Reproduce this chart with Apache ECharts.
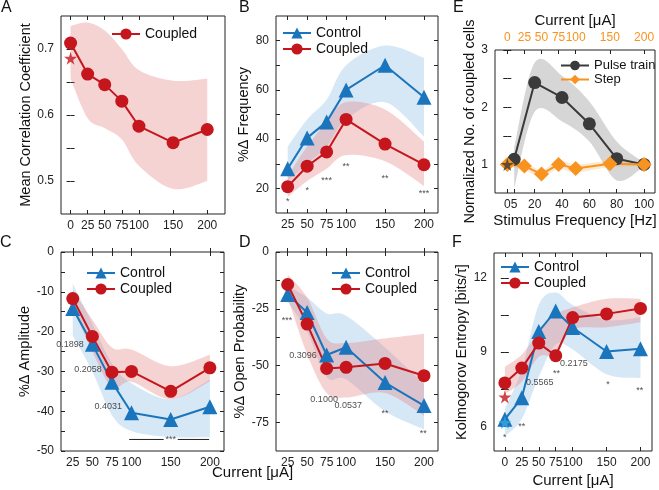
<!DOCTYPE html>
<html>
<head>
<meta charset="utf-8">
<script src="https://cdn.jsdelivr.net/npm/echarts@6/dist/echarts.min.js"></script>
<style>
html, body { margin: 0; padding: 0; background: #fff; }
#chart { width: 659px; height: 490px; }
</style>
</head>
<body>
<div id="chart"></div>
<script>
// ---- data ----
// A: mean correlation coefficient
var aCurrent = [0, 25, 50, 75, 100, 150, 200];
var aCoupled = [0.709, 0.662, 0.646, 0.621, 0.583, 0.558, 0.578];
var aCoupledHi = [0.735, 0.740, 0.728, 0.700, 0.668, 0.652, 0.655];
var aCoupledLo = [0.655, 0.595, 0.580, 0.563, 0.523, 0.488, 0.500];
var aStar = [0, 0.686];

// B: %Δ frequency
var current = [25, 50, 75, 100, 150, 200];
var bControl = [28, 40.5, 47, 60, 70, 57];
var bControlHi = [37, 48, 56, 70, 78, 73];
var bControlLo = [23, 30, 37, 48, 55, 41];
var bCoupled = [20.7, 29, 34.8, 48, 38, 29.6];
var bCoupledHi = [25, 37, 47, 55, 52, 39];
var bCoupledLo = [16.5, 23, 28, 33.5, 31, 21];
var bMarks = [[25, 14.7, '*'], [50, 19, '*'], [75, 23, '***'], [100, 29, '**'], [150, 24, '**'], [200, 18, '***']];

// C: %Δ amplitude
var cControl = [-14.2, -23.2, -32.7, -40.4, -42.1, -38.9];
var cControlHi = [-8, -18, -28, -33, -37, -32];
var cControlLo = [-21, -30, -41, -45, -46.5, -46.5];
var cCoupled = [-11.7, -21.2, -30.2, -30, -35, -29.1];
var cCoupledHi = [-9.6, -17, -24, -24.5, -28.7, -25.8];
var cCoupledLo = [-14, -25, -34, -32.6, -37, -32.5];
var cMarks = [[21.5, -23.2, '0.1898'], [44.4, -29.5, '0.2058'], [70.2, -38.9, '0.4031'], [150, -47.1, '***']];
var cBracket = [[97, -47.1], [141, -47.1], '-', [159, -47.1], [199, -47.1]];

// D: %Δ open probability
var dControl = [-18.7, -26.6, -45.3, -41.9, -57.4, -67.5];
var dControlHi = [-15, -20, -27, -28, -42, -58];
var dControlLo = [-22, -35, -55, -56, -70, -78];
var dCoupled = [-14.3, -31.7, -51.2, -50.7, -49, -54.4];
var dCoupledHi = [-10, -20, -38, -40, -38, -36];
var dCoupledLo = [-20, -45, -62, -64, -62, -72];
var dMarks = [[24, -30.3, '***'], [44.7, -45.5, '0.3096'], [71.8, -64.7, '0.1000'], [102.8, -67.7, '0.0537'], [150, -71.2, '**'], [199, -80, '**']];

// E: normalized no. of coupled cells
var eFreq = [5, 20, 40, 60, 80, 100];
var ePulse = [1.09, 2.43, 2.17, 1.71, 1.10, 1.00];
var ePulseHi = [1.30, 2.78, 2.55, 2.10, 1.40, 1.03];
var ePulseLo = [0.58, 1.92, 1.75, 1.40, 0.72, 0.97];
var eStepCurrent = [0, 25, 50, 75, 100, 150, 200];
var eStep = [1.00, 0.97, 0.83, 1.00, 0.93, 1.01, 1.00];
var eStepHi = [1.03, 1.04, 0.90, 1.07, 1.00, 1.06, 1.03];
var eStepLo = [0.97, 0.90, 0.78, 0.92, 0.86, 0.95, 0.97];
var eStar = [0, 1.0];

// F: Kolmogorov entropy
var fCurrent = [0, 25, 50, 75, 100, 150, 200];
var fControl = [6.28, 7.15, 9.83, 10.66, 9.99, 9.02, 9.13];
var fControlHi = [6.7, 8.3, 10.9, 11.4, 10.9, 10.3, 10.4];
var fControlLo = [5.6, 6.3, 8.0, 9.3, 9.1, 8.1, 7.95];
var fCoupled = [7.75, 8.35, 9.36, 8.85, 10.39, 10.54, 10.76];
var fCoupledHi = [8.4, 8.9, 9.8, 10.5, 10.8, 11.15, 11.15];
var fCoupledLo = [7.3, 7.8, 8.8, 8.9, 9.9, 10.0, 10.2];
var fControlStar = [0, 6.15];
var fCoupledStar = [0, 7.18];
var fMarks = [[0, 5.54, '*'], [25, 5.97, '**'], [51.6, 7.78, '0.5565'], [76, 8.15, '**'], [101.8, 8.53, '0.2175'], [152, 7.69, '*'], [199, 7.45, '**']];

// ---- styles ----
var FONT = '"Liberation Sans", Arial, Helvetica, sans-serif';
var RED = '#c4161c', BLUE = '#1b75bc', ORANGE = '#f7931e', DARK = '#3a3a3a', LIGHTBLUE = '#35a8e0';
var RED_BAND = 'rgba(226,110,110,0.30)';
var BLUE_BAND = 'rgba(120,175,225,0.30)';
var GRAY_BAND = 'rgba(0,0,0,0.16)';
var ORANGE_BAND = 'rgba(247,147,30,0.20)';
var STAR = 'path://M50,0 L61,35 L98,35 L68,57 L79,91 L50,70 L21,91 L32,57 L2,35 L39,35 Z';

var chart = echarts.init(document.getElementById('chart'));

var grids = [
    {left: 61, top: 16, width: 164, height: 198},   // A
    {left: 276, top: 16, width: 162, height: 197},  // B
    {left: 495, top: 50, width: 160, height: 143},  // E
    {left: 61, top: 252, width: 163, height: 199},  // C
    {left: 276, top: 252, width: 162, height: 199}, // D
    {left: 494, top: 253, width: 158, height: 198}  // F
];
grids.forEach(function (g) {
    g.show = true;
    g.borderColor = '#222';
    g.borderWidth = 1;
    g.backgroundColor = 'transparent';
});

var xAxes = [], yAxes = [], series = [];
var tick = {inside: true, length: 4, lineStyle: {color: '#222'}};

function panel(g, o) {
    var xi = xAxes.length, yi = yAxes.length;
    xAxes.push({
        gridIndex: g, type: 'value', min: o.xMin, max: o.xMax, position: 'bottom',
        axisLine: {show: false}, splitLine: {show: false},
        axisTick: Object.assign({customValues: o.xTicks}, tick),
        axisLabel: {customValues: o.xLabels || o.xTicks, fontSize: 12, color: '#222', margin: 6, fontFamily: FONT, hideOverlap: false},
        name: o.xName || '', nameLocation: 'middle', nameGap: o.xGap || 20,
        nameTextStyle: {fontSize: 15, color: '#111', fontFamily: FONT}
    });
    var top = o.top || {};
    xAxes.push({
        gridIndex: g, type: 'value', position: 'top',
        min: top.min != null ? top.min : o.xMin, max: top.max != null ? top.max : o.xMax,
        axisLine: {show: false}, splitLine: {show: false},
        axisTick: Object.assign({customValues: top.ticks || o.xTicks}, tick),
        axisLabel: top.ticks ? {customValues: top.ticks, fontSize: 12, color: ORANGE, margin: 6, fontFamily: FONT, hideOverlap: false} : {show: false},
        name: top.name || '', nameLocation: 'middle', nameGap: top.gap || 20,
        nameTextStyle: {fontSize: 15, color: '#111', fontFamily: FONT}
    });
    yAxes.push({
        gridIndex: g, type: 'value', min: o.yMin, max: o.yMax, position: 'left',
        axisLine: {show: false}, splitLine: {show: false},
        axisTick: Object.assign({customValues: o.yTicks}, tick),
        axisLabel: {customValues: o.yLabels, fontSize: 12, color: '#222', margin: 7, fontFamily: FONT},
        name: o.yName, nameLocation: 'middle', nameGap: o.yGap,
        nameTextStyle: {fontSize: 14.5, color: '#111', fontFamily: FONT}
    });
    yAxes.push({
        gridIndex: g, type: 'value', min: o.yMin, max: o.yMax, position: 'right',
        axisLine: {show: false}, splitLine: {show: false},
        axisTick: Object.assign({customValues: o.yTicks}, tick),
        axisLabel: {show: false}
    });
    return {x: xi, y: yi};
}

// catmull-rom through pixel points, sampled into a dense polyline
function spline(pts) {
    var out = [];
    for (var i = 0; i < pts.length - 1; i++) {
        var p0 = pts[i - 1] || pts[i], p1 = pts[i], p2 = pts[i + 1], p3 = pts[i + 2] || pts[i + 1];
        for (var s = 0; s < 12; s++) {
            var t = s / 12, t2 = t * t, t3 = t2 * t;
            out.push([0, 1].map(function (k) {
                return 0.5 * ((2 * p1[k]) + (-p0[k] + p2[k]) * t +
                    (2 * p0[k] - 5 * p1[k] + 4 * p2[k] - p3[k]) * t2 +
                    (-p0[k] + 3 * p1[k] - 3 * p2[k] + p3[k]) * t3);
            }));
        }
    }
    out.push(pts[pts.length - 1]);
    return out;
}

function band(ax, xs, lo, hi, color, topAxis) {
    series.push({
        type: 'custom', xAxisIndex: ax.x + (topAxis ? 1 : 0), yAxisIndex: ax.y,
        silent: true, z: 1,
        data: xs.map(function (x, i) { return [x, lo[i], hi[i]]; }),
        encode: {x: 0, y: [1, 2]},
        renderItem: function (params, api) {
            if (params.dataIndex !== 0) return null;
            var up = [], dn = [];
            for (var i = 0; i < xs.length; i++) {
                up.push(api.coord([xs[i], hi[i]]));
                dn.push(api.coord([xs[i], lo[i]]));
            }
            var pts = spline(up).concat(spline(dn).reverse());
            return {type: 'polygon', shape: {points: pts}, style: {fill: color}, silent: true};
        }
    });
}

function curve(ax, name, xs, ys, color, symbol, size, topAxis) {
    series.push({
        name: name, type: 'line', xAxisIndex: ax.x + (topAxis ? 1 : 0), yAxisIndex: ax.y,
        data: xs.map(function (x, i) { return [x, ys[i]]; }),
        symbol: symbol, symbolSize: size, showSymbol: true, z: 3,
        lineStyle: {color: color, width: 2},
        itemStyle: {color: color, opacity: 1}
    });
}

function star(ax, pt, color) {
    series.push({
        type: 'scatter', xAxisIndex: ax.x, yAxisIndex: ax.y, data: [pt],
        symbol: STAR, symbolSize: 13, itemStyle: {color: color}, z: 4, silent: true
    });
}

function marks(ax, items) {
    series.push({
        type: 'scatter', xAxisIndex: ax.x, yAxisIndex: ax.y, data: items,
        symbolSize: 0.1, itemStyle: {color: 'transparent'}, silent: true, z: 5,
        label: {
            show: true, position: 'inside', fontSize: 9, color: '#222', fontFamily: FONT,
            formatter: function (p) { return p.data[2]; }
        }
    });
}

// ---- panels ----
var curTicks = [25, 50, 75, 100, 150, 200];
var curTicks0 = [0, 25, 50, 75, 100, 150, 200];

var pA = panel(0, {
    xMin: -14, xMax: 226, xTicks: curTicks0,
    yMin: 0.45, yMax: 0.75, yTicks: [0.5, 0.55, 0.6, 0.65, 0.7], yLabels: [0.5, 0.6, 0.7],
    yName: 'Mean Correlation Coefficient', yGap: 26
});
band(pA, aCurrent, aCoupledLo, aCoupledHi, RED_BAND);
curve(pA, 'Coupled', aCurrent, aCoupled, RED, 'circle', 13);
star(pA, aStar, RED);

var pB = panel(1, {
    xMin: 10, xMax: 218, xTicks: curTicks,
    yMin: 10, yMax: 90, yTicks: [20, 30, 40, 50, 60, 70, 80], yLabels: [20, 40, 60, 80],
    yName: '%Δ Frequency', yGap: 21
});
band(pB, current, bControlLo, bControlHi, BLUE_BAND);
band(pB, current, bCoupledLo, bCoupledHi, RED_BAND);
curve(pB, 'Control', current, bControl, BLUE, 'triangle', 15);
curve(pB, 'Coupled', current, bCoupled, RED, 'circle', 13);
marks(pB, bMarks);

var pE = panel(2, {
    xMin: -9, xMax: 108, xTicks: [0, 5, 20, 40, 60, 80, 100],
    yMin: 0.5, yMax: 3, yTicks: [1, 1.5, 2, 2.5, 3], yLabels: [1, 2, 3],
    yName: 'Normalized No. of coupled cells', yGap: 12,
    xName: 'Stimulus Frequency [Hz]', xGap: 20,
    top: {min: -18, max: 216, ticks: [0, 25, 50, 75, 100, 150, 200], name: 'Current [μA]', gap: 22}
});
band(pE, eFreq, ePulseLo, ePulseHi, GRAY_BAND);
band(pE, eStepCurrent, eStepLo, eStepHi, ORANGE_BAND, true);
curve(pE, 'Pulse train', eFreq, ePulse, DARK, 'circle', 13);
curve(pE, 'Step', eStepCurrent, eStep, ORANGE, 'diamond', 15, true);
star(pE, eStar, DARK);

var pC = panel(3, {
    xMin: 10, xMax: 218, xTicks: curTicks,
    yMin: -50, yMax: 0, yTicks: [-50, -45, -40, -35, -30, -25, -20, -15, -10, -5, 0], yLabels: [-50, -40, -30, -20, -10, 0],
    yName: '%Δ Amplitude', yGap: 26
});
band(pC, current, cControlLo, cControlHi, BLUE_BAND);
band(pC, current, cCoupledLo, cCoupledHi, RED_BAND);
curve(pC, 'Control', current, cControl, BLUE, 'triangle', 15);
curve(pC, 'Coupled', current, cCoupled, RED, 'circle', 13);
series.push({
    type: 'line', xAxisIndex: pC.x, yAxisIndex: pC.y, data: cBracket,
    symbol: 'none', silent: true, z: 4, lineStyle: {color: '#222', width: 1}
});
marks(pC, cMarks);

var pD = panel(4, {
    xMin: 10, xMax: 218, xTicks: curTicks,
    yMin: -87.5, yMax: 0, yTicks: [-75, -62.5, -50, -37.5, -25, -12.5, 0], yLabels: [-75, -50, -25, 0],
    yName: '%Δ Open Probability', yGap: 25
});
band(pD, current, dControlLo, dControlHi, BLUE_BAND);
band(pD, current, dCoupledLo, dCoupledHi, RED_BAND);
curve(pD, 'Control', current, dControl, BLUE, 'triangle', 15);
curve(pD, 'Coupled', current, dCoupled, RED, 'circle', 13);
marks(pD, dMarks);

var pF = panel(5, {
    xMin: -16, xMax: 217, xTicks: curTicks0,
    yMin: 5, yMax: 13, yTicks: [6, 7.5, 9, 10.5, 12], yLabels: [6, 9, 12],
    yName: 'Kolmogorov Entropy [bits/τ]', yGap: 23,
    xName: 'Current [μA]', xGap: 22
});
band(pF, fCurrent, fControlLo, fControlHi, BLUE_BAND);
band(pF, fCurrent, fCoupledLo, fCoupledHi, RED_BAND);
curve(pF, 'Control', fCurrent, fControl, BLUE, 'triangle', 15);
curve(pF, 'Coupled', fCurrent, fCoupled, RED, 'circle', 13);
star(pF, fCoupledStar, RED);
star(pF, fControlStar, LIGHTBLUE);
marks(pF, fMarks);

function legend(names, left, top, gap, h, fs) {
    return {
        data: names, left: left, top: top, orient: 'vertical', padding: 0,
        itemWidth: 28, itemHeight: h, itemGap: gap, selectedMode: false,
        textStyle: {fontSize: fs, color: '#111', fontFamily: FONT}
    };
}

function letter(txt, x, y) {
    return {
        type: 'text', left: x, top: y,
        style: {text: txt, fontSize: 16, fill: '#111', fontFamily: FONT}
    };
}

chart.setOption({
    animation: false,
    textStyle: {fontFamily: FONT},
    grid: grids,
    xAxis: xAxes,
    yAxis: yAxes,
    legend: [
        legend(['Coupled'], 111, 27, 2, 14, 14),
        legend(['Control', 'Coupled'], 282, 26, 2, 14, 14),
        legend(['Control', 'Coupled'], 86, 266, 2, 14, 14),
        legend(['Control', 'Coupled'], 331, 266, 2, 14, 14),
        legend(['Pulse train', 'Step'], 560, 59, 1, 12, 13),
        legend(['Control', 'Coupled'], 500, 260, 2, 14, 14)
    ],
    graphic: [
        letter('A', 1, 0),
        letter('B', 239, 0),
        letter('E', 453, 0),
        letter('C', 0, 235),
        letter('D', 239, 235),
        letter('F', 452, 235),
        {
            type: 'text', left: 212, top: 465,
            style: {text: 'Current [μA]', fontSize: 15, fill: '#111', fontFamily: FONT}
        }
    ],
    series: series
});
</script>
</body>
</html>
